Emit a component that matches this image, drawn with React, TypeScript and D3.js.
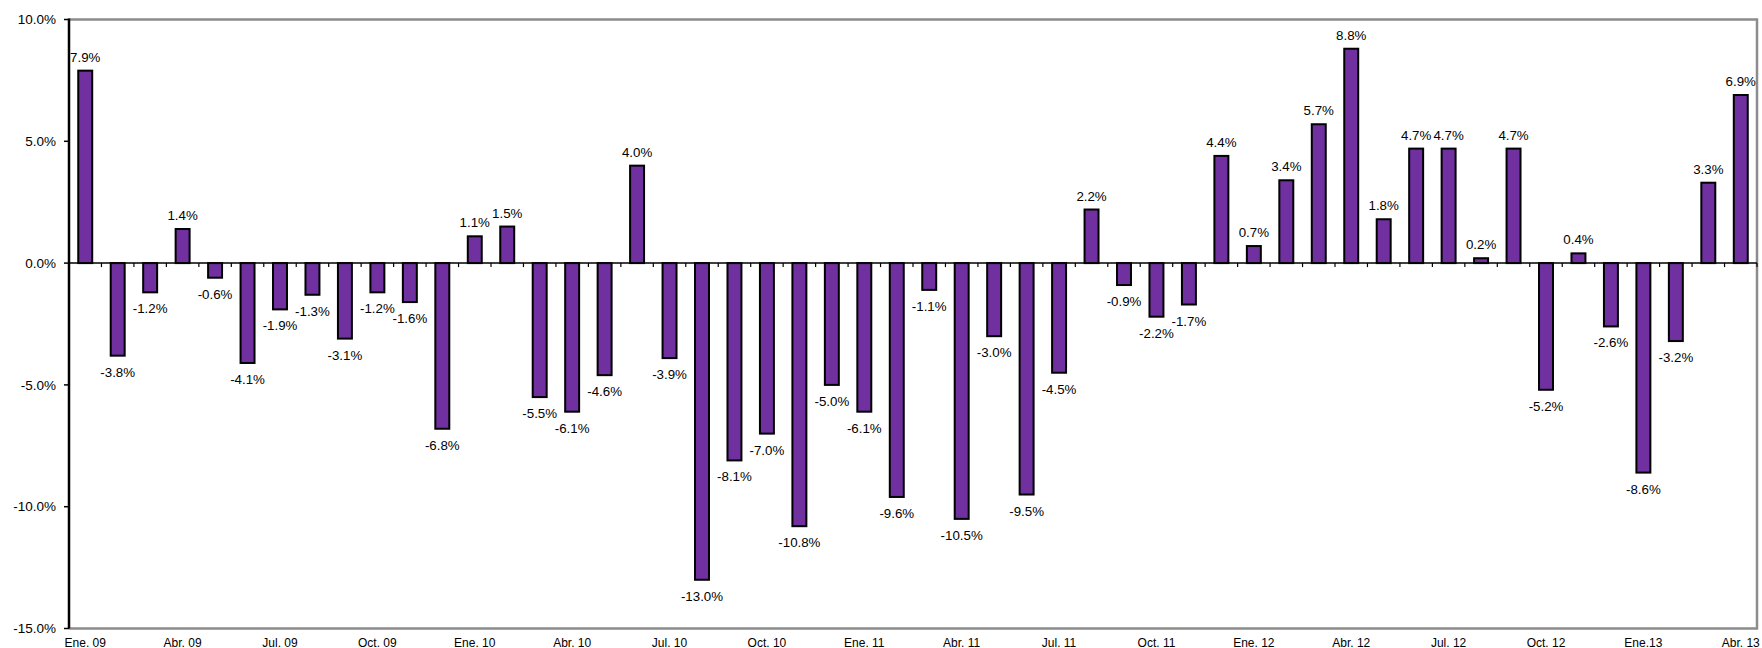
import React from 'react';
import * as d3 from 'd3';

const WIDTH = 1762;
const HEIGHT = 648;
const PLOT = { left: 69, right: 1757, top: 19.5, bottom: 628.5 };
const FONT = '"Liberation Sans", Arial, sans-serif';
const BAR_FILL = '#7030A0';

// monthly values, Ene 09 .. Abr 13
const months = [
  'Ene 09', 'Feb 09', 'Mar 09', 'Abr 09', 'May 09', 'Jun 09', 'Jul 09', 'Ago 09', 'Sep 09', 'Oct 09', 'Nov 09', 'Dic 09',
  'Ene 10', 'Feb 10', 'Mar 10', 'Abr 10', 'May 10', 'Jun 10', 'Jul 10', 'Ago 10', 'Sep 10', 'Oct 10', 'Nov 10', 'Dic 10',
  'Ene 11', 'Feb 11', 'Mar 11', 'Abr 11', 'May 11', 'Jun 11', 'Jul 11', 'Ago 11', 'Sep 11', 'Oct 11', 'Nov 11', 'Dic 11',
  'Ene 12', 'Feb 12', 'Mar 12', 'Abr 12', 'May 12', 'Jun 12', 'Jul 12', 'Ago 12', 'Sep 12', 'Oct 12', 'Nov 12', 'Dic 12',
  'Ene 13', 'Feb 13', 'Mar 13', 'Abr 13',
];

const values = [
  7.9, -3.8, -1.2, 1.4, -0.6, -4.1, -1.9, -1.3, -3.1, -1.2, -1.6, -6.8,
  1.1, 1.5, -5.5, -6.1, -4.6, 4.0, -3.9, -13.0, -8.1, -7.0, -10.8, -5.0,
  -6.1, -9.6, -1.1, -10.5, -3.0, -9.5, -4.5, 2.2, -0.9, -2.2, -1.7, 4.4,
  0.7, 3.4, 5.7, 8.8, 1.8, 4.7, 4.7, 0.2, 4.7, -5.2, 0.4, -2.6,
  -8.6, -3.2, 3.3, 6.9,
];

// every third month gets an axis label
const axisLabels = [
  'Ene. 09', 'Abr. 09', 'Jul. 09', 'Oct. 09',
  'Ene. 10', 'Abr. 10', 'Jul. 10', 'Oct. 10',
  'Ene. 11', 'Abr. 11', 'Jul. 11', 'Oct. 11',
  'Ene. 12', 'Abr. 12', 'Jul. 12', 'Oct. 12',
  'Ene.13', 'Abr. 13',
];

const yTicks = [10, 5, 0, -5, -10, -15];

// plain hyphen minus, like the original
const pct = (v: number) => v.toFixed(1) + '%';

const App = () => {
  const x = d3.scaleBand<string>()
    .domain(months)
    .range([PLOT.left, PLOT.right])
    .paddingInner(0.57)
    .paddingOuter(0.285);

  const y = d3.scaleLinear()
    .domain([-15, 10])
    .range([PLOT.bottom, PLOT.top]);

  const step = x.step();
  const zero = y(0);

  return (
    <svg width={WIDTH} height={HEIGHT} style={{ position: 'absolute', left: 0, top: 0, background: '#fff' }}>
      {/* frame */}
      <path
        d={`M${PLOT.left},${PLOT.top}H${PLOT.right}V${PLOT.bottom}H${PLOT.left}`}
        fill="none" stroke="#8c8c8c" strokeWidth={2.5}
      />

      {/* bars */}
      {values.map((v, i) => {
        const m = months[i];
        const y0 = y(Math.max(0, v));
        const y1 = y(Math.min(0, v));
        return (
          <rect key={m} x={x(m)} y={y0} width={x.bandwidth()} height={y1 - y0}
            fill={BAR_FILL} stroke="#000" strokeWidth={2} />
        );
      })}

      {/* zero line with category ticks */}
      <line x1={PLOT.left} x2={PLOT.right} y1={zero} y2={zero} stroke="#000" strokeWidth={1.5} />
      {months.map((m) => {
        const bx = (x(m) as number) - (step - x.bandwidth()) / 2 + step;
        return <line key={'t' + m} x1={bx} x2={bx} y1={zero} y2={zero + 4} stroke="#000" strokeWidth={1.2} />;
      })}

      {/* y axis */}
      <line x1={PLOT.left} x2={PLOT.left} y1={PLOT.top - 1} y2={PLOT.bottom} stroke="#000" strokeWidth={2.5} />
      {yTicks.map(t => (
        <g key={t} transform={`translate(0,${y(t)})`}>
          <line x1={PLOT.left - 5} x2={PLOT.left} stroke="#000" strokeWidth={1.5} />
          <text x={56} dy="0.35em" textAnchor="end" fontFamily={FONT} fontSize={13.5} fill="#000">
            {pct(t)}
          </text>
        </g>
      ))}

      {/* data labels */}
      {values.map((v, i) => {
        const m = months[i];
        const cx = (x(m) as number) + x.bandwidth() / 2;
        const ty = v >= 0 ? y(v) - 9 : y(v) + 21;
        return (
          <text key={'l' + m} x={cx} y={ty} textAnchor="middle" fontFamily={FONT} fontSize={13.3} fill="#000">
            {pct(v)}
          </text>
        );
      })}

      {/* x axis labels */}
      {axisLabels.map((lab, k) => {
        const m = months[k * 3];
        const cx = (x(m) as number) + x.bandwidth() / 2;
        return (
          <text key={lab} x={cx} y={646.5} textAnchor="middle" fontFamily={FONT} fontSize={12} fill="#000">
            {lab}
          </text>
        );
      })}
    </svg>
  );
};

export default App;
